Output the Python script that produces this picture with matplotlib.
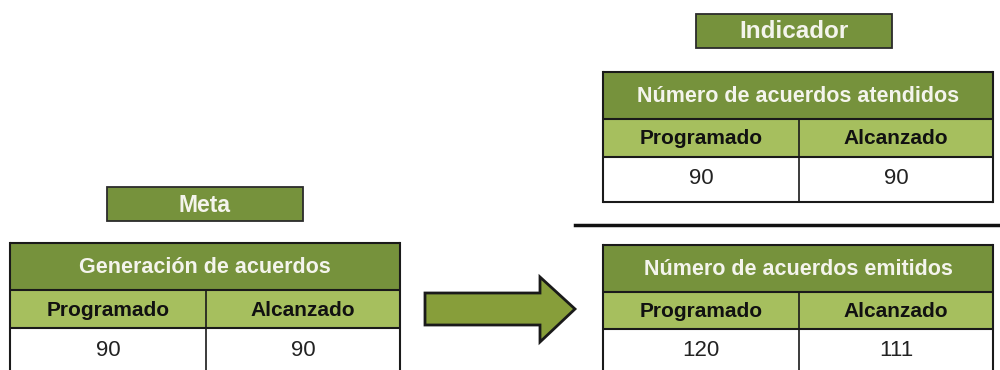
import matplotlib.pyplot as plt
from matplotlib.patches import Rectangle, Polygon

# datos
labels = ["Meta", "Indicador"]
titles = ["Generación de acuerdos", "Número de acuerdos atendidos", "Número de acuerdos emitidos"]
columns = ["Programado", "Alcanzado"]
programado = [90, 90, 120]
alcanzado = [90, 90, 111]

dark = "#76923C"
light = "#A6BF5E"
arrow_fill = "#879E3A"

plt.rcParams['font.family'] = ['Liberation Sans', 'DejaVu Sans']

fig = plt.figure(figsize=(10, 3.7), dpi=100)
ax = fig.add_axes([0, 0, 1, 1])
ax.set_xlim(0, 1000)
ax.set_ylim(370, 0)
ax.axis('off')


def label_box(x, y, w, h, text, size):
    ax.add_patch(Rectangle((x, y), w, h, facecolor=dark, edgecolor="#2b2b2b", lw=1.3))
    ax.text(x + w / 2, y + h / 2 + 1, text, color="#F4F4EC", fontsize=size,
            fontweight="bold", ha="center", va="center")


def table(x, y, w, title, prog, alc, rows=(47, 37, 44)):
    h1, h2, h3 = rows
    ax.add_patch(Rectangle((x, y), w, h1, facecolor=dark, edgecolor="none"))
    ax.add_patch(Rectangle((x, y + h1), w, h2, facecolor=light, edgecolor="none"))
    ax.add_patch(Rectangle((x, y + h1 + h2), w, h3, facecolor="white", edgecolor="none"))
    mid = x + w * 0.503
    bottom = y + h1 + h2 + h3
    lc = "#1a1a1a"
    for yy in (y, y + h1, y + h1 + h2, bottom):
        ax.plot([x, x + w], [yy, yy], color=lc, lw=1.5, solid_capstyle="butt")
    ax.plot([x, x], [y, bottom], color=lc, lw=1.5)
    ax.plot([x + w, x + w], [y, bottom], color=lc, lw=1.5)
    ax.plot([mid, mid], [y + h1, bottom], color=lc, lw=1.2)
    ax.text(x + w / 2, y + h1 / 2 + 1, title, color="#F4F4EC", fontsize=15.5,
            fontweight="bold", ha="center", va="center")
    ax.text((x + mid) / 2, y + h1 + h2 / 2 + 1, columns[0], color="#111111",
            fontsize=15, fontweight="bold", ha="center", va="center")
    ax.text((mid + x + w) / 2, y + h1 + h2 / 2 + 1, columns[1], color="#111111",
            fontsize=15, fontweight="bold", ha="center", va="center")
    ax.text((x + mid) / 2, y + h1 + h2 + 22, str(prog), color="#222222",
            fontsize=16, ha="center", va="center")
    ax.text((mid + x + w) / 2, y + h1 + h2 + 22, str(alc), color="#222222",
            fontsize=16, ha="center", va="center")


label_box(107, 187, 196, 34, labels[0], 16.5)
label_box(696, 14, 196, 34, labels[1], 17.5)

table(10, 243, 390, titles[0], programado[0], alcanzado[0], rows=(47, 38, 50))
table(603, 72, 390, titles[1], programado[1], alcanzado[1], rows=(47, 38, 45))
table(603, 245, 390, titles[2], programado[2], alcanzado[2], rows=(47, 37, 50))

# separador
ax.plot([575, 1000], [225, 225], color="#111111", lw=2.5)

# flecha
arrow = Polygon([(425, 293), (540, 293), (540, 277), (575, 309), (540, 342),
                 (540, 325), (425, 325)], closed=True, facecolor=arrow_fill,
                edgecolor="#1a1a1a", lw=2, joinstyle="miter")
ax.add_patch(arrow)

fig.savefig("out.png", dpi=100, facecolor="white")
